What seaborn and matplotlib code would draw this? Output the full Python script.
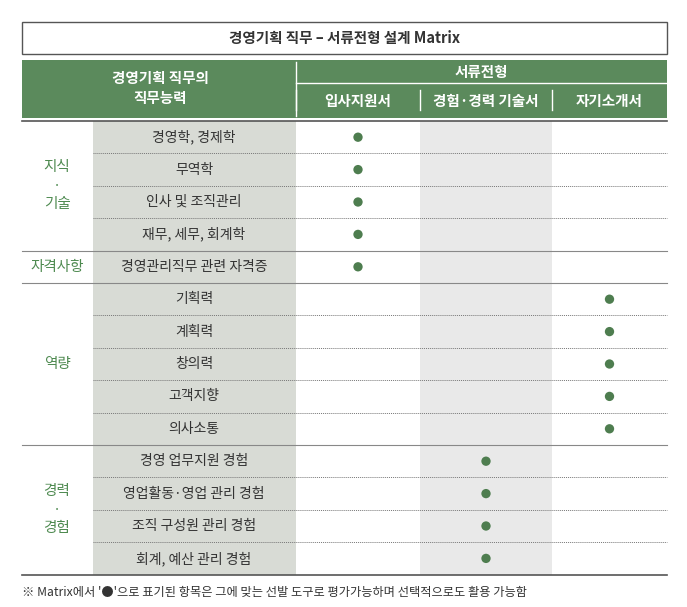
import matplotlib
matplotlib.use("Agg")
import matplotlib.pyplot as plt
from matplotlib import font_manager as fm
import seaborn as sns
import pandas as pd

names = sorted({f.name for f in fm.fontManager.ttflist if "CJK" in f.name})
FONT = next((n for n in ["Noto Sans CJK KR", "Noto Sans CJK JP", "Noto Sans CJK SC"] if n in names), names[0] if names else "DejaVu Sans")
plt.rcParams["font.family"] = [FONT, "DejaVu Sans"]

title = "경영기획 직무 – 서류전형 설계 Matrix"
groups = ["지식\n·\n기술", "자격사항", "역량", "경력\n·\n경험"]
group_sizes = [4, 1, 5, 4]
items = ["경영학, 경제학", "무역학", "인사 및 조직관리", "재무, 세무, 회계학",
         "경영관리직무 관련 자격증",
         "기획력", "계획력", "창의력", "고객지향", "의사소통",
         "경영 업무지원 경험", "영업활동·영업 관리 경험", "조직 구성원 관리 경험", "회계, 예산 관리 경험"]
columns = ["입사지원서", "경험·경력 기술서", "자기소개서"]
marks = [0, 0, 0, 0, 0, 2, 2, 2, 2, 2, 1, 1, 1, 1]  # column index marked per item
footnote = "※ Matrix에서 '●'으로 표기된 항목은 그에 맞는 선발 도구로 평가가능하며 선택적으로도 활용 가능함"

GREEN = "#5b8a5c"; DOT = "#4e7d4f"; GTEXT = "#4e8a50"
fig = plt.figure(figsize=(6.87, 6.07), dpi=100)
ax = fig.add_axes([0, 0, 1, 1])

L, R = 22, 667
xs = [22, 93, 296, 420, 552, 667]
top, rh = 121, 32.4
n = len(items)
bottom = top + n * rh

df = pd.DataFrame({"x": [(xs[m + 2] + xs[m + 3]) / 2 for m in marks],
                   "y": [top + (i + .5) * rh for i in range(n)]})
ax.add_patch(plt.Rectangle((93, top), 203, n * rh, fc="#d8dbd5", ec="none", zorder=0))
ax.add_patch(plt.Rectangle((420, top), 132, n * rh, fc="#e9e9e9", ec="none", zorder=0))
sns.scatterplot(data=df, x="x", y="y", ax=ax, color=DOT, s=45, edgecolor="none", legend=False, zorder=3)
ax.set_xlim(0, 687); ax.set_ylim(607, 0); ax.axis("off")

ax.add_patch(plt.Rectangle((L, 22), R - L, 32, fc="white", ec="#555555", lw=1))
ax.text((L + R) / 2, 38, title, ha="center", va="center", fontsize=10.5, fontweight="bold", color="#333333")
ax.add_patch(plt.Rectangle((L, 60), R - L, 58, fc=GREEN, ec="none"))
ax.text(160, 88, "경영기획 직무의\n직무능력", ha="center", va="center", color="white", fontsize=10.5, fontweight="bold", linespacing=1.3)
ax.plot([296, 296], [62, 116], color="white", lw=1)
ax.plot([296, R], [83, 83], color="white", lw=1)
ax.text((296 + R) / 2, 72, "서류전형", ha="center", va="center", color="white", fontsize=10.5, fontweight="bold")
for x in xs[2:5]:
    ax.plot([x, x], [90, 110], color="white", lw=1)
for i, c in enumerate(columns):
    ax.text((xs[i + 2] + xs[i + 3]) / 2, 101, c, ha="center", va="center", color="white", fontsize=10.5, fontweight="bold")

for i, it in enumerate(items):
    ax.text(194, top + (i + .5) * rh, it, ha="center", va="center", fontsize=10, color="#333333")
ax.plot([L, R], [top, top], color="#555555", lw=1.2)
ax.plot([L, R], [bottom, bottom], color="#555555", lw=1.2)
start = 0
group_bounds = set()
for g, s in zip(groups, group_sizes):
    ax.text(57, top + (start + s / 2) * rh, g, ha="center", va="center", fontsize=10.5, color=GTEXT, linespacing=1.4)
    start += s; group_bounds.add(start)
for k in range(1, n):
    y = top + k * rh
    if k in group_bounds:
        ax.plot([L, R], [y, y], color="#888888", lw=0.8)
    else:
        ax.plot([93, R], [y, y], color="#777777", lw=0.7, ls=(0, (1, 1)))

ax.text(L, 592, footnote, ha="left", va="center", fontsize=8.8, color="#333333")
fig.savefig("out.png", dpi=100)
